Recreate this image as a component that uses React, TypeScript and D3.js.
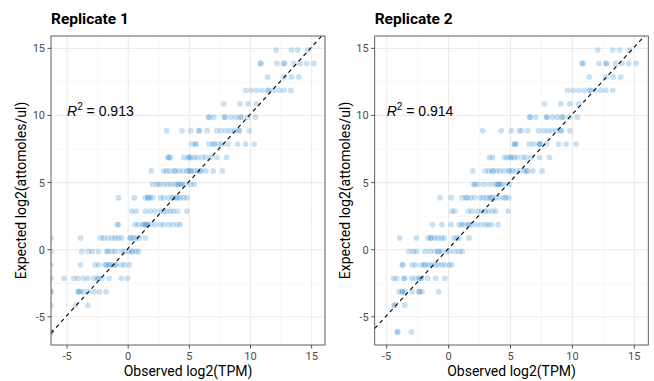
import React from "react";
import * as d3 from "d3";

// expected ERCC concentrations, log2(attomoles/ul)
const expectedLevels = [
  14.87, 13.87, 12.87, 11.87, 10.87, 9.87, 8.87, 7.87, 6.87, 5.87, 4.87,
  3.87, 2.87, 1.87, 0.87, -0.13, -1.13, -2.13, -3.13, -4.13, -5.13, -6.13,
];

// observed log2(TPM) per level; -Infinity = zero TPM (drawn at the panel edge)
const rep1Observed: number[][] = [
  [12.1, 13.35, 13.85, 14.7],
  [10.8, 10.85, 12.15, 12.7, 12.8, 13.55, 14.05, 14.6, 15.2],
  [11.4, 12.75, 13.35, 13.95],
  [9.6, 10.05, 10.5, 10.95, 11.4, 11.5, 11.9, 12.35, 12.75, 13.3],
  [7.8, 9.15, 9.8, 10.5],
  [6.55, 6.65, 7.0, 7.85, 7.95, 8.4, 8.8, 9.15, 9.25, 9.75, 10.4],
  [3.15, 4.4, 5.1, 5.75, 5.85, 6.45, 7.25, 7.6, 8.0, 8.35, 8.7, 9.05, 9.1, 9.9],
  [5.2, 5.5, 5.55, 6.6, 6.95, 7.05, 7.4, 7.7, 8.15, 8.95, 9.6, 10.3],
  [3.25, 3.3, 3.45, 4.55, 4.9, 5.0, 5.1, 5.4, 5.65, 6.05, 6.35, 6.75, 7.25, 8.05],
  [1.9, 2.9, 3.15, 3.4, 3.75, 3.85, 4.15, 4.45, 4.8, 4.9, 5.1, 5.15, 5.4, 5.65, 5.9, 5.95, 6.35, 6.95, 7.7],
  [2.0, 2.35, 2.55, 2.9, 3.2, 3.5, 3.8, 4.05, 4.1, 4.3, 4.4, 4.65, 5.1, 5.4],
  [-0.8, 0.5, 1.4, 1.6, 1.65, 1.8, 2.0, 2.65, 2.9, 3.3, 3.6, 3.7, 3.9, 4.05, 4.25, 4.55, 4.8],
  [0.3, 0.65, 1.4, 1.8, 2.2, 2.65, 2.9, 3.15, 3.45, 3.7, 4.05, 4.8],
  [-0.9, -0.8, 0.55, 0.8, 1.15, 1.3, 1.4, 1.5, 1.6, 1.8, 2.2, 2.65, 2.9, 3.3, 3.65, 4.0, 4.25],
  [-Infinity, -3.9, -2.25, -2.0, -1.65, -1.3, -1.05, -0.8, -0.55, 0.15, 0.2, 0.45, 0.65, 0.9, 1.4],
  [-Infinity, -3.8, -3.25, -2.95, -2.45, -1.75, -1.65, -1.3, -1.05, -0.55, -0.3, 0.05, 0.3, 0.35, 0.65, 0.85],
  [-Infinity, -3.9, -2.7, -2.4, -1.9, -1.8, -1.6, -1.5, -1.3, -1.05, -1.0, -0.55, -0.3, 0.1],
  [-Infinity, -5.25, -4.45, -4.1, -3.65, -3.3, -2.8, -2.5, -2.45, -2.15, -1.55, -0.55, -0.05],
  [-Infinity, -Infinity, -4.1, -4.05, -3.9, -3.65, -3.25, -2.8, -2.35, -1.8],
  [-Infinity, -4.3, -3.3],
  [],
  [-Infinity, -Infinity],
];

const rep2Observed: number[][] = [
  [12.05, 13.25, 13.8, 14.6],
  [10.8, 10.85, 12.15, 12.7, 12.75, 13.5, 14.0, 14.55, 15.15],
  [11.35, 12.7, 13.3, 13.9],
  [9.6, 10.05, 10.5, 10.95, 11.4, 11.45, 11.85, 12.3, 12.7, 13.25],
  [7.75, 9.05, 9.8, 10.5],
  [6.55, 6.6, 7.05, 7.9, 7.95, 8.4, 8.8, 9.15, 9.25, 9.75, 10.4],
  [2.75, 4.25, 5.05, 5.7, 5.9, 6.4, 7.25, 7.65, 8.0, 8.35, 8.7, 9.05, 9.1, 9.8],
  [5.3, 5.35, 5.45, 6.5, 6.85, 7.3, 7.35, 7.4, 7.9, 8.9, 9.5, 10.3],
  [3.3, 3.55, 4.5, 4.75, 5.0, 5.05, 5.3, 5.55, 6.0, 6.25, 6.65, 7.35, 8.15],
  [1.95, 2.95, 3.25, 3.5, 3.6, 3.9, 4.15, 4.5, 4.85, 4.95, 5.15, 5.45, 5.75, 6.15, 6.25, 6.4, 6.8, 7.55],
  [2.05, 2.1, 2.4, 2.85, 3.3, 3.7, 3.95, 4.0, 4.1, 4.2, 4.5, 4.9],
  [-0.7, 0.2, 1.1, 1.4, 1.5, 1.8, 2.1, 2.55, 2.8, 3.05, 3.3, 3.4, 3.55, 3.8, 4.15, 4.5, 4.6, 4.85],
  [0.25, 0.5, 1.6, 1.9, 2.35, 2.65, 2.95, 3.2, 3.55, 3.8, 4.8],
  [-1.3, -0.55, 0.2, 0.85, 1.05, 1.25, 1.55, 1.65, 1.85, 2.25, 2.6, 2.95, 3.2, 3.45, 4.0],
  [-3.95, -2.6, -1.65, -1.45, -1.4, -1.1, -0.85, -0.55, -0.35, 0.4, 0.65, 0.85, 1.65],
  [-3.2, -2.85, -2.6, -1.9, -1.5, -1.1, -0.85, -0.8, -0.55, -0.15, 0.1, 0.5, 0.85, 1.1],
  [-3.75, -3.7, -2.95, -2.7, -2.2, -1.95, -1.9, -1.6, -1.35, -1.1, -0.85, -0.55, -0.3, 0.05, 0.25],
  [-4.45, -4.2, -3.6, -3.55, -3.0, -2.7, -2.4, -2.25, -2.2, -1.7, -1.05, -0.3],
  [-4.0, -3.75, -3.7, -3.55, -2.95, -2.4, -2.35, -2.15, -0.8],
  [-4.4, -4.35, -3.55],
  [],
  [-4.15, -4.1, -3.0],
];

const titles = ["Replicate 1", "Replicate 2"];
const rSquared = ["0.913", "0.914"];
const xDomains: [number, number][] = [[-6.31, 16.09], [-5.97, 16.13]];
const yDomain: [number, number] = [-7.1, 15.92];
const majorTicks = [-5, 0, 5, 10, 15];
const minorTicks = [-7.5, -2.5, 2.5, 7.5, 12.5];
const lineSlope = 1;
const lineIntercept = 0.1;
const labelPos = { x: -5, y: 10 };

const W = 654, H = 381;
const panels = [
  { left: 51, right: 325 },
  { left: 374.7, right: 648.3 },
];
const top = 36, bottom = 345;
const font = "Roboto, 'DejaVu Sans', sans-serif";

function Panel({ idx }: { idx: number }) {
  const { left, right } = panels[idx];
  const x = d3.scaleLinear().domain(xDomains[idx]).range([left, right]);
  const y = d3.scaleLinear().domain(yDomain).range([bottom, top]);
  const obs = idx === 0 ? rep1Observed : rep2Observed;
  const pts: { cx: number; cy: number }[] = [];
  obs.forEach((row, i) =>
    row.forEach((v) =>
      pts.push({ cx: isFinite(v) ? x(v) : left, cy: y(expectedLevels[i]) })
    )
  );
  const [x0, x1] = xDomains[idx];
  const clipId = `clip${idx}`;
  const inX = (t: number) => t >= x0 && t <= x1;
  const inY = (t: number) => t >= yDomain[0] && t <= yDomain[1];
  const cx = (left + right) / 2;
  const cy = (top + bottom) / 2;

  return (
    <g>
      <defs>
        <clipPath id={clipId}>
          <rect x={left} y={top} width={right - left} height={bottom - top} />
        </clipPath>
      </defs>
      <text x={left} y={24} fontSize={15.5} fontWeight="bold" fill="#000">
        {titles[idx]}
      </text>
      <rect x={left} y={top} width={right - left} height={bottom - top} fill="#fff" />
      {minorTicks.filter(inX).map((t) => (
        <line key={"vx" + t} x1={x(t)} x2={x(t)} y1={top} y2={bottom} stroke="#f2f2f2" strokeWidth={0.6} />
      ))}
      {minorTicks.filter(inY).map((t) => (
        <line key={"vy" + t} y1={y(t)} y2={y(t)} x1={left} x2={right} stroke="#f2f2f2" strokeWidth={0.6} />
      ))}
      {majorTicks.map((t) => (
        <line key={"mx" + t} x1={x(t)} x2={x(t)} y1={top} y2={bottom} stroke="#ebebeb" strokeWidth={1.1} />
      ))}
      {majorTicks.map((t) => (
        <line key={"my" + t} y1={y(t)} y2={y(t)} x1={left} x2={right} stroke="#ebebeb" strokeWidth={1.1} />
      ))}
      <g clipPath={`url(#${clipId})`}>
        {pts.map((p, i) => (
          <circle key={i} cx={p.cx} cy={p.cy} r={2.9} fill="#2b86cf" fillOpacity={0.25} />
        ))}
        <line
          x1={x(x0)}
          y1={y(lineIntercept + lineSlope * x0)}
          x2={x(x1)}
          y2={y(lineIntercept + lineSlope * x1)}
          stroke="#000"
          strokeWidth={1.1}
          strokeDasharray="4,3.5"
        />
      </g>
      <text
        x={x(labelPos.x)}
        y={y(labelPos.y) + 1}
        fontSize={14}
        fill="#000"
        fontFamily="'Liberation Sans', Arial, sans-serif"
      >
        <tspan fontStyle="italic">R</tspan>
        <tspan dy={-6} fontSize={10}>2</tspan>
        <tspan dy={6}> = {rSquared[idx]}</tspan>
      </text>
      <rect x={left} y={top} width={right - left} height={bottom - top} fill="none" stroke="#4d4d4d" strokeWidth={0.9} />
      {majorTicks.map((t) => (
        <g key={"tx" + t}>
          <line x1={x(t)} x2={x(t)} y1={bottom} y2={bottom + 3.5} stroke="#4d4d4d" />
          <text x={x(t)} y={bottom + 14.5} fontSize={11} fill="#4d4d4d" textAnchor="middle">
            {t}
          </text>
        </g>
      ))}
      {majorTicks.map((t) => (
        <g key={"ty" + t}>
          <line x1={left - 3.5} x2={left} y1={y(t)} y2={y(t)} stroke="#4d4d4d" />
          <text x={left - 6} y={y(t) + 4} fontSize={11} fill="#4d4d4d" textAnchor="end">
            {t}
          </text>
        </g>
      ))}
      <text x={cx} y={376} fontSize={14} textAnchor="middle" fill="#000">
        Observed log2(TPM)
      </text>
      <text
        transform={`translate(${left - 25},${cy}) rotate(-90)`}
        fontSize={14}
        textAnchor="middle"
        fill="#000"
      >
        Expected log2(attomoles/ul)
      </text>
    </g>
  );
}

export default function App() {
  return (
    <svg
      width={W}
      height={H}
      style={{ position: "absolute", left: 0, top: 0, fontFamily: font }}
    >
      <rect width={W} height={H} fill="#fff" />
      <Panel idx={0} />
      <Panel idx={1} />
    </svg>
  );
}
